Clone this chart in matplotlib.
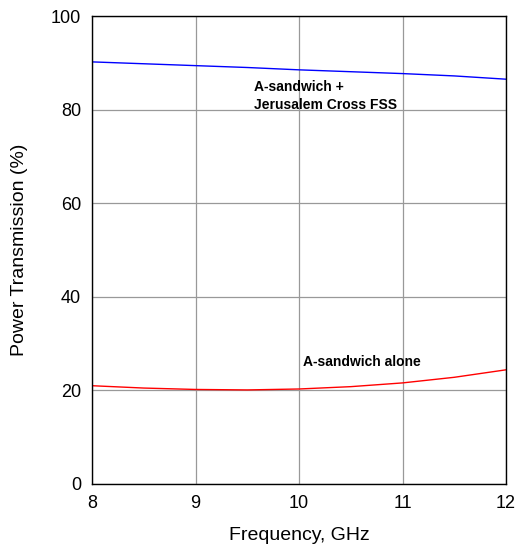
import matplotlib
matplotlib.use("Agg")
import matplotlib.pyplot as plt

# Transmission curves read at 0.5 GHz steps
freq = [8.0, 8.5, 9.0, 9.5, 10.0, 10.5, 11.0, 11.5, 12.0]
fss_tx = [90.2, 89.8, 89.4, 89.0, 88.5, 88.1, 87.7, 87.2, 86.5]
alone_tx = [21.0, 20.5, 20.2, 20.1, 20.3, 20.8, 21.6, 22.8, 24.4]

plt.rcParams['font.family'] = ['Liberation Sans', 'DejaVu Sans']

fig = plt.figure(figsize=(5.18, 5.47), dpi=100)
ax = fig.add_axes([0.1776, 0.1152, 0.7994, 0.8555])

ax.plot(freq, fss_tx, color='blue', linewidth=1.0)
ax.plot(freq, alone_tx, color='red', linewidth=1.0)

ax.text(9.565, 86.4, "A-sandwich +\nJerusalem Cross FSS", fontsize=10, fontweight='bold',
        va='top', ha='left', linespacing=1.35)
ax.text(10.035, 26.0, "A-sandwich alone", fontsize=10, fontweight='bold', va='center', ha='left')

ax.set_xlim(8, 12)
ax.set_ylim(0, 100)
ax.set_xticks([8, 9, 10, 11, 12])
ax.set_yticks([0, 20, 40, 60, 80, 100])
ax.tick_params(length=0, labelsize=13, pad=8)
ax.grid(color='#999999', linewidth=0.9)
for s in ax.spines.values():
    s.set_linewidth(1.0)
ax.set_xlabel("Frequency, GHz", fontsize=14, labelpad=11)
ax.set_ylabel("Power Transmission (%)", fontsize=14, labelpad=16)

fig.savefig("out.png", dpi=100)
